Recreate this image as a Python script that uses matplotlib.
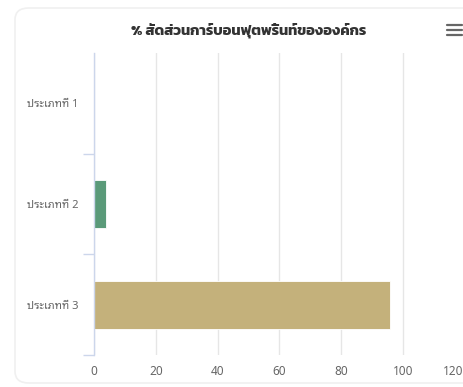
import matplotlib
matplotlib.use("Agg")
import matplotlib.pyplot as plt
import matplotlib.transforms as mtransforms
from matplotlib.patches import FancyBboxPatch
from matplotlib.lines import Line2D

# data
categories = ["ประเภทที่ 1", "ประเภทที่ 2", "ประเภทที่ 3"]
values = [0.0, 4.0, 95.6]
colors = ["#7cb5ec", "#5a9a79", "#c4b17b"]
title = "% สัดส่วนการ์บอนฟุตพริ้นท์ขององค์กร"
xticks = [0, 20, 40, 60, 80, 100, 120]

W, H = 464, 387
fig = plt.figure(figsize=(W / 100, H / 100), dpi=100)

# card outline
card = FancyBboxPatch((15 / W, 4 / H), 470 / W, 375 / H,
                      boxstyle="round,pad=0,rounding_size=0.03",
                      transform=fig.transFigure, fill=False,
                      edgecolor="#f0f0f0", linewidth=1.2)
fig.patches.append(card)

ax = fig.add_axes([94 / W, 1 - 355 / H, 371 / W, 302 / H])
pos = range(len(categories))
ax.barh(pos, values, height=0.48, color=colors, edgecolor="white", linewidth=0.6, zorder=3)

ax.set_xlim(0, 120)
ax.set_ylim(2.5, -0.5)
ax.set_xticks(xticks)
ax.set_xticklabels([str(t) for t in xticks], color="#666666", fontsize=8.5,
                   family=["Noto Sans Thai", "DejaVu Sans"])
ax.set_yticks(list(pos))
ax.set_yticklabels(categories, color="#666666", fontsize=8,
                   family=["Noto Sans Thai Looped", "DejaVu Sans"])
ax.set_yticks([0.5, 1.5, 2.5], minor=True)
ax.tick_params(axis="y", which="major", length=0, pad=11)
ax.tick_params(axis="y", which="minor", length=8, color="#ccd6eb", width=1)
ax.tick_params(axis="x", length=0, pad=7)

# last x label pulled inward so it stays inside the figure
last = ax.get_xticklabels()[-1]
last.set_transform(last.get_transform() +
                   mtransforms.ScaledTranslation(-12 / 100, 0, fig.dpi_scale_trans))

ax.grid(axis="x", color="#e6e6e6", linewidth=1, zorder=0)
for s in ["top", "right", "bottom"]:
    ax.spines[s].set_visible(False)
ax.spines["left"].set_color("#ccd6eb")
ax.spines["left"].set_linewidth(1)
ax.spines["left"].set_zorder(4)

fig.text(249 / W, 1 - 30 / H, title, ha="center", va="center",
         fontsize=10.5, fontweight="bold", color="#333333",
         family=["Kanit", "DejaVu Sans"])

# menu icon
for yy in (25, 30, 35):
    fig.add_artist(Line2D([447 / W, 462 / W], [1 - yy / H, 1 - yy / H],
                          color="#666666", linewidth=1.6, solid_capstyle="round"))

fig.savefig("out.png", dpi=100)
